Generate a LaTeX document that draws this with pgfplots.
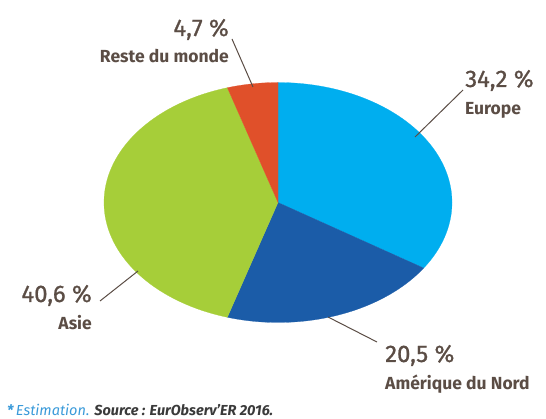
\documentclass[border=0pt]{standalone}
\usepackage{pgfplots}
\pgfplotsset{compat=1.18}
\usepackage{fontspec}
\setmainfont{Fira Sans}
\newfontfamily\numfont[FakeBold=0.9]{Fira Sans}
\definecolor{txt}{HTML}{5B4D45}
\definecolor{ceur}{HTML}{00AEEF}
\definecolor{came}{HTML}{1B5CA8}
\definecolor{casi}{HTML}{A6CE39}
\definecolor{cres}{HTML}{E0502A}
\definecolor{fblue}{HTML}{3A9AD9}
\definecolor{fdark}{HTML}{3A3A3A}
% shares (%), clockwise from the top
\def\vEur{34.2}
\def\vAme{20.5}
\def\vAsi{40.6}
\def\vRes{4.7}
\def\cx{278}\def\cy{202.5}\def\rx{174}\def\ry{120}
\begin{document}
\begin{tikzpicture}
\pgfmathsetmacro\aA{90}
\pgfmathsetmacro\aB{\aA-3.6*\vEur}
\pgfmathsetmacro\aC{\aB-3.6*\vAme}
\pgfmathsetmacro\aD{\aC-3.6*\vAsi}
\pgfmathsetmacro\aE{\aD-3.6*\vRes}
\begin{axis}[
  width=546pt, height=419pt, scale only axis,
  xmin=0, xmax=546, ymin=0, ymax=419, y dir=reverse,
  hide axis, clip=false,
]
\path (rel axis cs:0,0) (rel axis cs:1,1);
\addplot[fill=ceur, draw=ceur, line width=0.2pt, domain=\aB:\aA, samples=90]
  ({\cx+\rx*cos(x)}, {\cy-\ry*sin(x)}) -- (axis cs:\cx,\cy) -- cycle;
\addplot[fill=came, draw=came, line width=0.2pt, domain=\aC:\aB, samples=60]
  ({\cx+\rx*cos(x)}, {\cy-\ry*sin(x)}) -- (axis cs:\cx,\cy) -- cycle;
\addplot[fill=casi, draw=casi, line width=0.2pt, domain=\aD:\aC, samples=100]
  ({\cx+\rx*cos(x)}, {\cy-\ry*sin(x)}) -- (axis cs:\cx,\cy) -- cycle;
\addplot[fill=cres, draw=cres, line width=0.2pt, domain=\aE:\aD, samples=20]
  ({\cx+\rx*cos(x)}, {\cy-\ry*sin(x)}) -- (axis cs:\cx,\cy) -- cycle;
% leader lines
\addplot[txt, line width=1pt] coordinates {(232,39) (253,87)};
\addplot[txt, line width=1pt] coordinates {(463,90) (415,137)};
\addplot[txt, line width=1pt] coordinates {(100,301) (138,271)};
\addplot[txt, line width=1pt] coordinates {(328,317) (377,342)};
% labels
\node[anchor=base east, inner sep=0pt, text=txt, font=\numfont\fontsize{24}{24}\selectfont] at (axis cs:229,36) {4,7 \%};
\node[anchor=base east, inner sep=0pt, text=txt, font=\bfseries\fontsize{17.5}{18}\selectfont] at (axis cs:229,63) {Reste du monde};
\node[anchor=base west, inner sep=0pt, text=txt, font=\numfont\fontsize{24}{24}\selectfont] at (axis cs:465,87) {34,2 \%};
\node[anchor=base west, inner sep=0pt, text=txt, font=\bfseries\fontsize{17.5}{18}\selectfont] at (axis cs:465,115) {Europe};
\node[anchor=base east, inner sep=0pt, text=txt, font=\numfont\fontsize{24}{24}\selectfont] at (axis cs:92,302) {40,6 \%};
\node[anchor=base east, inner sep=0pt, text=txt, font=\bfseries\fontsize{17.5}{18}\selectfont] at (axis cs:92,330) {Asie};
\node[anchor=base west, inner sep=0pt, text=txt, font=\numfont\fontsize{24}{24}\selectfont] at (axis cs:385,362) {20,5 \%};
\node[anchor=base west, inner sep=0pt, text=txt, font=\bfseries\fontsize{17.5}{18}\selectfont] at (axis cs:385,389) {Amérique du Nord};
\node[anchor=base west, inner sep=0pt, font=\itshape\fontsize{14.5}{15}\selectfont] at (axis cs:7,415)
  {\textcolor{fblue}{\textbf{*}\,Estimation.} \textcolor{fdark}{\bfseries Source~: EurObserv’ER 2016.}};
\end{axis}
\end{tikzpicture}
\end{document}
